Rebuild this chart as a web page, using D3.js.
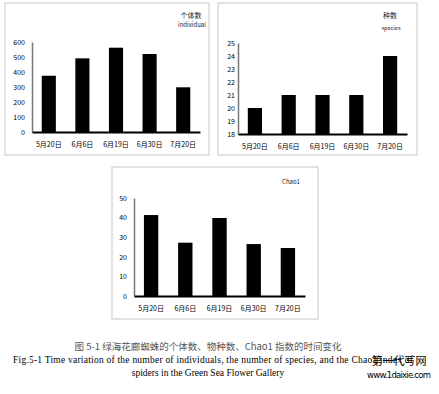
<!DOCTYPE html>
<html><head><meta charset="utf-8">
<script src="https://cdn.jsdelivr.net/npm/d3@7"></script>
<style>body{margin:0;background:#fff}svg{display:block}</style>
</head><body>
<svg id="c" width="439" height="394"></svg>
<script>
const categories = ["5月20日", "6月6日", "6月19日", "6月30日", "7月20日"];
const individuals = [375, 491, 562, 520, 298];
const species = [20, 21, 21, 21, 24];
const chao1 = [41.3, 27.2, 39.8, 26.5, 24.5];
const individualTicks = [0, 100, 200, 300, 400, 500, 600];
const speciesTicks = [18, 19, 20, 21, 22, 23, 24, 25];
const chaoTicks = [0, 10, 20, 30, 40, 50];

const svg = d3.select("#c");
const sans = "'Noto Sans CJK SC', 'DejaVu Sans', sans-serif";

function panel(cfg) {
  const g = svg.append("g");
  g.append("rect").attr("x", cfg.box[0]).attr("y", cfg.box[1])
    .attr("width", cfg.box[2]).attr("height", cfg.box[3])
    .attr("fill", "#fff").attr("stroke", "#d9d9d9").attr("stroke-width", 1.5);
  const x = d3.scaleBand().domain(categories).range([cfg.x0, cfg.x1]).paddingInner(0.58).paddingOuter(0.29);
  const y = d3.scaleLinear().domain(cfg.domain).range([cfg.yb, cfg.yt]);
  g.selectAll("rect.bar").data(cfg.values).join("rect").attr("class", "bar")
    .attr("x", (d, i) => x(categories[i])).attr("width", x.bandwidth())
    .attr("y", d => y(d)).attr("height", d => cfg.yb - y(d)).attr("fill", "#000");
  const ya = d3.axisLeft(y).tickValues(cfg.ticks).tickFormat(d3.format("d")).tickSize(0).tickPadding(cfg.tp);
  const yg = g.append("g").attr("transform", `translate(${cfg.x0},0)`).call(ya);
  yg.select(".domain").attr("stroke", "#777").attr("stroke-width", 1.5);
  yg.selectAll("text").attr("font-family", sans).attr("font-size", 7).attr("fill", "#000");
  const xa = d3.axisBottom(x).tickSize(0).tickPadding(10);
  const xg = g.append("g").attr("transform", `translate(0,${cfg.yb})`).call(xa);
  xg.select(".domain").attr("stroke", "#000").attr("stroke-width", 2);
  xg.selectAll("text").attr("font-family", sans).attr("font-size", 7).attr("fill", "#000");
  cfg.titles.forEach(t => {
    g.append("text").attr("x", t[0]).attr("y", t[1]).attr("text-anchor", "middle")
      .attr("font-family", sans).attr("font-size", t[3]).attr("fill", "#222").text(t[2]);
  });
}

panel({box: [5, 3, 204, 152], x0: 32, x1: 200, yb: 132, yt: 42, domain: [0, 600],
  values: individuals, ticks: individualTicks, tp: 7,
  titles: [[191, 18, "个体数", 7], [192, 27, "individual", 6]]});
panel({box: [218, 3, 199, 152], x0: 238, x1: 407, yb: 134, yt: 43, domain: [18, 25],
  values: species, ticks: speciesTicks, tp: 3,
  titles: [[390, 18, "种数", 7], [391, 30, "species", 5.5]]});
panel({box: [112, 167, 206, 152], x0: 134, x1: 305, yb: 296, yt: 198, domain: [0, 50],
  values: chao1, ticks: chaoTicks, tp: 7,
  titles: [[291, 184, "Chao1", 6]]});

const serif = "'Liberation Serif', 'DejaVu Serif', serif";
svg.append("text").attr("x", 208).attr("y", 350).attr("text-anchor", "middle")
  .attr("font-family", "'Noto Sans CJK SC', serif").attr("font-size", 9.5).attr("fill", "#555")
  .text("图 5-1 绿海花廊蜘蛛的个体数、物种数、Chao1 指数的时间变化");
svg.append("text").attr("x", 13).attr("y", 363).attr("font-family", serif)
  .attr("font-size", 9.5).attr("fill", "#000").attr("textLength", 400)
  .text("Fig.5-1 Time variation of the number of individuals, the number of species, and the Chao1 index of");
svg.append("text").attr("x", 208).attr("y", 376).attr("text-anchor", "middle").attr("font-family", serif)
  .attr("font-size", 9.5).attr("fill", "#000").text("spiders in the Green Sea Flower Gallery");
svg.append("text").attr("x", 399).attr("y", 365).attr("text-anchor", "middle")
  .attr("font-family", sans).attr("font-size", 11).attr("fill", "#000").text("第一代写网");
svg.append("text").attr("x", 399).attr("y", 378).attr("text-anchor", "middle")
  .attr("font-family", "'DejaVu Sans', sans-serif").attr("font-size", 8.5).attr("textLength", 64)
  .attr("fill", "#000").text("www.1daixie.com");
</script>
</body></html>
